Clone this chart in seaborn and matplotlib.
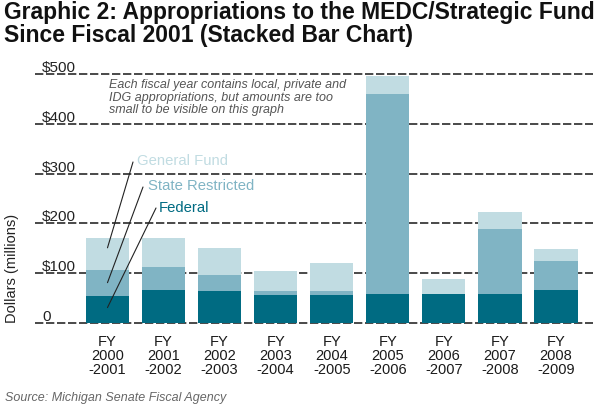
import matplotlib
matplotlib.use("Agg")
import matplotlib.pyplot as plt
import seaborn as sns
import pandas as pd
import numpy as np

# ---- data (millions of dollars) ----
categories = ["FY\n2000\n-2001", "FY\n2001\n-2002", "FY\n2002\n-2003", "FY\n2003\n-2004",
              "FY\n2004\n-2005", "FY\n2005\n-2006", "FY\n2006\n-2007", "FY\n2007\n-2008",
              "FY\n2008\n-2009"]
federal = [54, 67, 65, 56, 56, 58, 58, 58, 67]
state_restricted = [52, 45, 31, 9, 9, 402, 1, 131, 57]
general_fund = [65, 59, 55, 40, 56, 36, 30, 34, 25]
ytick_values = [0, 100, 200, 300, 400, 500]
ytick_labels = ["0", "$100", "$200", "$300", "$400", "$500"]

c_fed = "#006b82"
c_state = "#80b4c4"
c_gf = "#c1dce2"

sns.set_theme(style="white")
plt.rcParams["font.family"] = ["Liberation Sans", "DejaVu Sans"]

W, H = 600, 406
fig = plt.figure(figsize=(W / 100, H / 100), dpi=100)

def fx(px):
    return px / W

def fy(py):
    return 1 - py / H

ax = fig.add_axes([fx(35), fy(326.5), fx(593) - fx(35), (254) / H])

df = pd.DataFrame({
    "cat": categories,
    "fed": federal,
    "state": state_restricted,
    "gf": general_fund,
})
df["top_state"] = df["fed"] + df["state"]
df["top_gf"] = df["top_state"] + df["gf"]

for col, colour in [("top_gf", c_gf), ("top_state", c_state), ("fed", c_fed)]:
    sns.barplot(data=df, x="cat", y=col, color=colour, width=0.77, ax=ax,
                saturation=1, linewidth=0, edgecolor=colour, zorder=3)

ax.set_xlim(-1.293, 8.66)
ax.set_ylim(-5, 505)
for s in ax.spines.values():
    s.set_visible(False)
ax.set_xlabel("")
ax.set_ylabel("")

ax.set_yticks(ytick_values)
ax.set_yticklabels(ytick_labels)
for yv in ytick_values:
    ax.axhline(yv, color="#2a2a2a", linestyle=(0, (5, 1.6)), linewidth=1.2, zorder=1)
ax.tick_params(axis="y", length=0, pad=-5, labelsize=11, labelcolor="#222222")
for lab in ax.get_yticklabels():
    lab.set_horizontalalignment("left")
    lab.set_verticalalignment("bottom")
ax.tick_params(axis="x", length=0, pad=6, labelsize=10.5, labelcolor="#1a1a1a")
for lab in ax.get_xticklabels():
    lab.set_linespacing(1.0)

# title
fig.text(fx(4), fy(1), "Graphic 2: Appropriations to the MEDC/Strategic Fund\nSince Fiscal 2001 (Stacked Bar Chart)",
         ha="left", va="top", fontsize=16.5, fontweight="bold", color="#111111",
         linespacing=0.98)

# note
ax.text(fx(109), fy(79), "Each fiscal year contains local, private and\nIDG appropriations, but amounts are too\nsmall to be visible on this graph",
        transform=fig.transFigure, ha="left", va="top", fontsize=9.0, style="italic",
        color="#555555", linespacing=1.08)

# y label
fig.text(fx(12), fy(268), "Dollars (millions)", rotation=90, ha="center", va="center",
         fontsize=10.5, color="#222222")

# source
fig.text(fx(5), fy(398), "Source: Michigan Senate Fiscal Agency", ha="left", va="center",
         fontsize=9.0, style="italic", color="#666666")

# legend labels with leader lines
legend_items = [
    ("General Fund", c_gf, (137, 161), (133, 163), 151),
    ("State Restricted", c_state, (148, 186), (143, 188), 81),
    ("Federal", c_fed, (159, 208), (156, 209), 31),
]
for label, col, (tx, ty), (lx, ly), yval in legend_items:
    fig.text(fx(tx), fy(ty), label, ha="left", va="center", fontsize=10.7, color=col)
    ax.annotate("", xy=(0, yval), xycoords="data",
                xytext=(fx(lx), fy(ly)), textcoords="figure fraction",
                arrowprops=dict(arrowstyle="-", color="#222222", lw=0.8,
                                shrinkA=0, shrinkB=0), zorder=5)

fig.savefig("out.png", dpi=100)
